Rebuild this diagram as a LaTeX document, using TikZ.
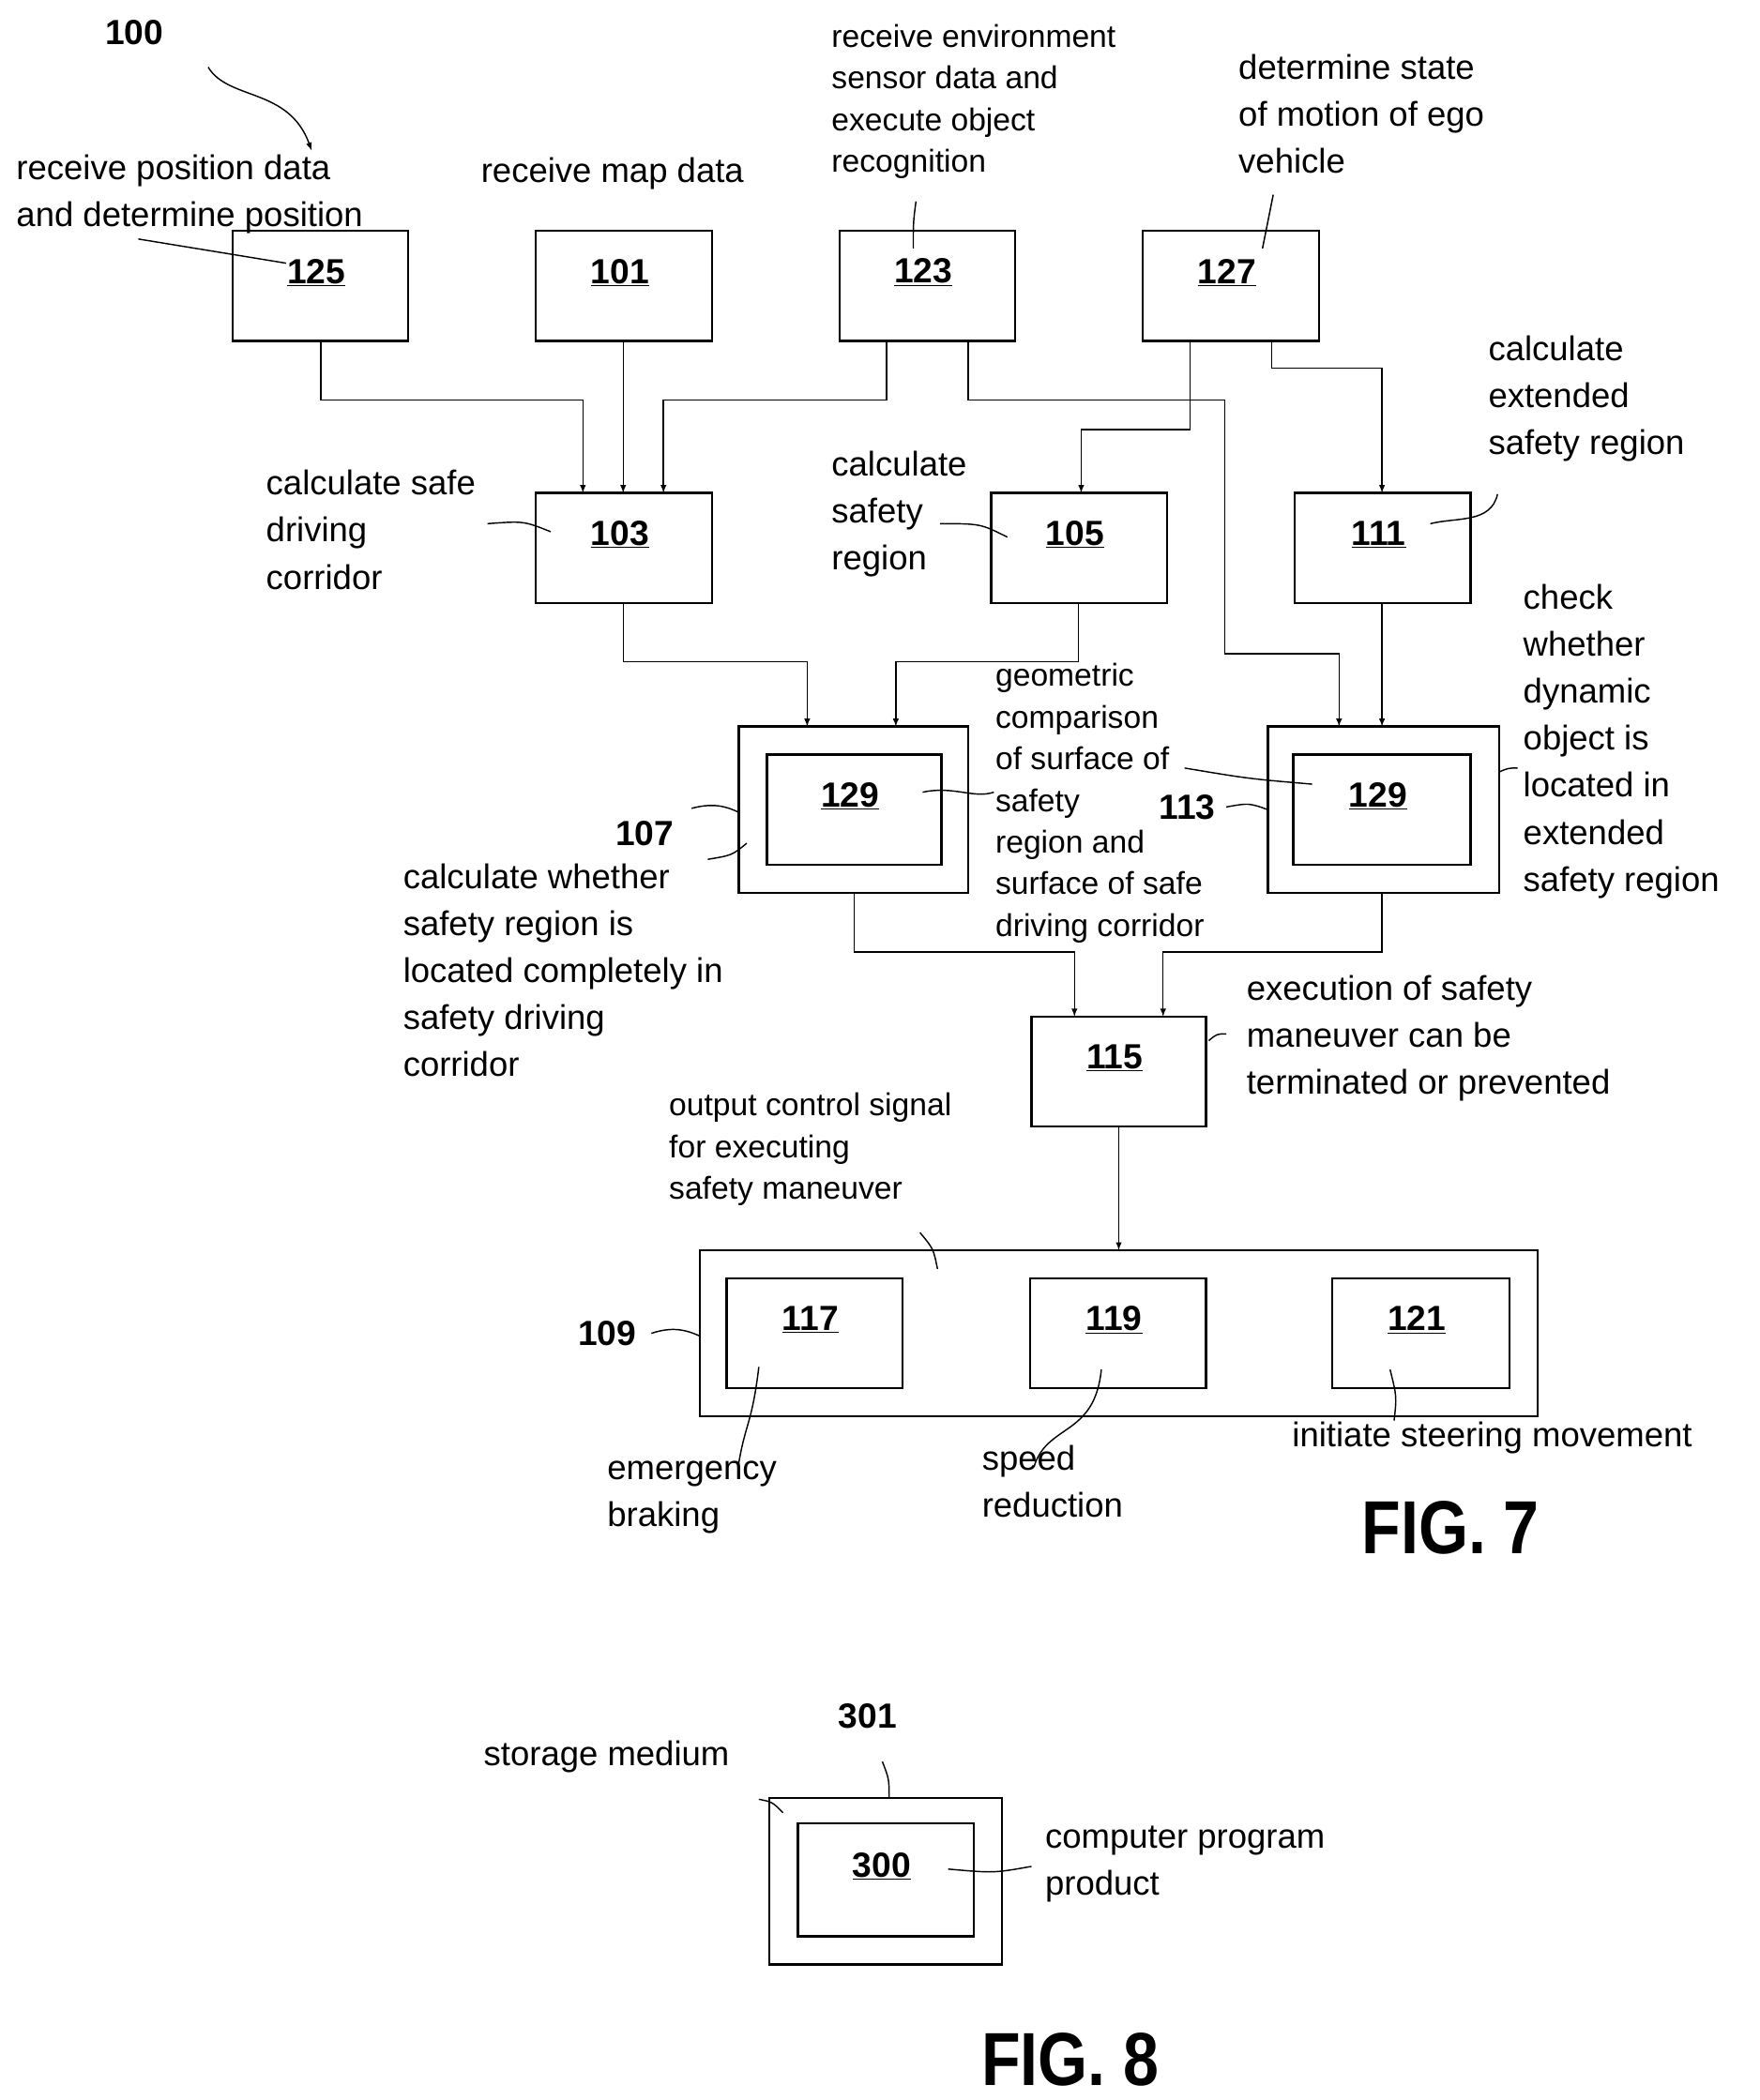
\documentclass[tikz,border=0pt]{standalone}
\usepackage{fontspec}
\setmainfont{Liberation Sans}
\begin{document}
\begin{tikzpicture}[x=1pt,y=-1pt,
 box/.style={draw,line width=1.6pt},
 num/.style={font=\fontsize{26}{30}\selectfont\bfseries},
 lbl/.style={anchor=north west,align=left,inner sep=0pt,font=\fontsize{25.5}{35}\selectfont},
 slbl/.style={anchor=north west,align=left,inner sep=0pt,font=\fontsize{23.5}{31}\selectfont},
 bn/.style={font=\fontsize{26}{30}\selectfont\bfseries},
 fig/.style={font=\fontsize{56}{60}\selectfont\bfseries,xscale=0.85},
 ar/.style={->,>=latex,line width=1pt},
 ld/.style={line width=1pt}]
\useasboundingbox (0,0) rectangle (1310,1564);
\newcommand{\bx}[5]{\draw[box] (#1,#2) rectangle (#3,#4); \node[num] at ({(#1+#3)/2-3},{(#2+#4)/2-10}) {\underline{#5}};}
\bx{173}{172}{304}{254}{125}
\bx{399}{172}{530}{254}{101}
\bx{625}{172}{756}{254}{123}
\bx{851}{172}{982}{254}{127}
\bx{399}{367}{530}{449}{103}
\bx{738}{367}{869}{449}{105}
\bx{964}{367}{1095}{449}{111}
\draw[box] (550,541) rectangle (721,665);
\bx{571}{562}{701}{644}{129}
\draw[box] (944,541) rectangle (1116,665);
\bx{963}{562}{1095}{644}{129}
\bx{768}{757}{898}{839}{115}
\draw[box] (521,931) rectangle (1145,1055);
\bx{541}{952}{672}{1034}{117}
\bx{767}{952}{898}{1034}{119}
\bx{992}{952}{1124}{1034}{121}
\draw[box] (573,1339) rectangle (746,1463);
\bx{594}{1358}{725}{1442}{300}
% connectors
\draw[ar] (239,254) |- (434,298) -- (434,367);
\draw[ar] (464,254) -- (464,367);
\draw[ar] (660,254) |- (494,298) -- (494,367);
\draw[ar] (721,254) |- (912,298) |- (997,487) -- (997,541);
\draw[ar] (886,254) |- (805,320) -- (805,367);
\draw[ar] (947,254) |- (1029,274) -- (1029,367);
\draw[ar] (1029,449) -- (1029,541);
\draw[ar] (464,449) |- (601,493) -- (601,541);
\draw[ar] (803,449) |- (667,493) -- (667,541);
\draw[ar] (636,665) |- (800,709) -- (800,757);
\draw[ar] (1029,665) |- (866,709) -- (866,757);
\draw[ar] (833,839) -- (833,931);
% texts
\node[bn] at (100,24) {100};
\draw[ar] (155,50) .. controls (170,75) and (215,65) .. (232,112);
\node[lbl] at (12,115) {receive position data\\and determine position};
\node[lbl] at (358,117) {receive map data};
\node[slbl] at (619,18) {receive environment\\sensor data and\\execute object\\recognition};
\node[lbl] at (922,40) {determine state\\of motion of ego\\vehicle};
\node[lbl] at (1108,250) {calculate\\extended\\safety region};
\node[lbl] at (198,350) {calculate safe\\driving\\corridor};
\node[lbl] at (619,336) {calculate\\safety\\region};
\node[lbl] at (1134,435) {check\\whether\\dynamic\\object is\\located in\\extended\\safety region};
\node[slbl] at (741,494) {geometric\\comparison\\of surface of\\safety\\region and\\surface of safe\\driving corridor};
\node[bn] at (480,621) {107};
\node[bn] at (884,601) {113};
\node[lbl] at (300,643) {calculate whether\\safety region is\\located completely in\\safety driving\\corridor};
\node[lbl] at (928,726) {execution of safety\\maneuver can be\\terminated or prevented};
\node[slbl] at (498,814) {output control signal\\for executing\\safety maneuver};
\node[bn] at (452,993) {109};
\node[lbl] at (452,1088) {emergency\\braking};
\node[lbl] at (731,1076) {speed\\reduction};
\node[lbl] at (962,1059) {initiate steering movement};
\node[fig] at (1080,1138) {FIG. 7};
\node[bn] at (646,1278) {301};
\node[lbl] at (360,1296) {storage medium};
\node[lbl] at (778,1360) {computer program\\product};
\node[fig] at (797,1534) {FIG. 8};
% leaders
\draw[ld] (103,178) -- (213,196);
\draw[ld] (682,150) .. controls (680,165) .. (680,185);
\draw[ld] (948,145) .. controls (944,165) .. (940,185);
\draw[ld] (1115,368) .. controls (1110,390) and (1085,385) .. (1065,390);
\draw[ld] (363,390) .. controls (390,388) .. (410,396);
\draw[ld] (700,390) .. controls (730,390) .. (750,400);
\draw[ld] (515,602) .. controls (530,598) and (540,600) .. (550,605);
\draw[ld] (527,640) .. controls (545,637) .. (556,628);
\draw[ld] (687,590) .. controls (710,585) and (725,595) .. (740,590);
\draw[ld] (913,601) .. controls (930,598) .. (944,603);
\draw[ld] (882,572) .. controls (930,580) .. (977,584);
\draw[ld] (1116,575) .. controls (1123,572) .. (1130,572);
\draw[ld] (900,775) .. controls (906,770) .. (913,770);
\draw[ld] (698,945) .. controls (695,930) .. (685,918);
\draw[ld] (485,993) .. controls (500,988) and (510,990) .. (521,995);
\draw[ld] (565,1018) .. controls (560,1060) and (555,1060) .. (550,1090);
\draw[ld] (820,1020) .. controls (815,1070) and (780,1060) .. (770,1092);
\draw[ld] (1035,1020) .. controls (1040,1040) .. (1038,1058);
\draw[ld] (657,1312) .. controls (662,1325) .. (662,1339);
\draw[ld] (565,1340) .. controls (575,1342) .. (583,1350);
\draw[ld] (706,1392) .. controls (740,1395) .. (768,1390);
\end{tikzpicture}
\end{document}
